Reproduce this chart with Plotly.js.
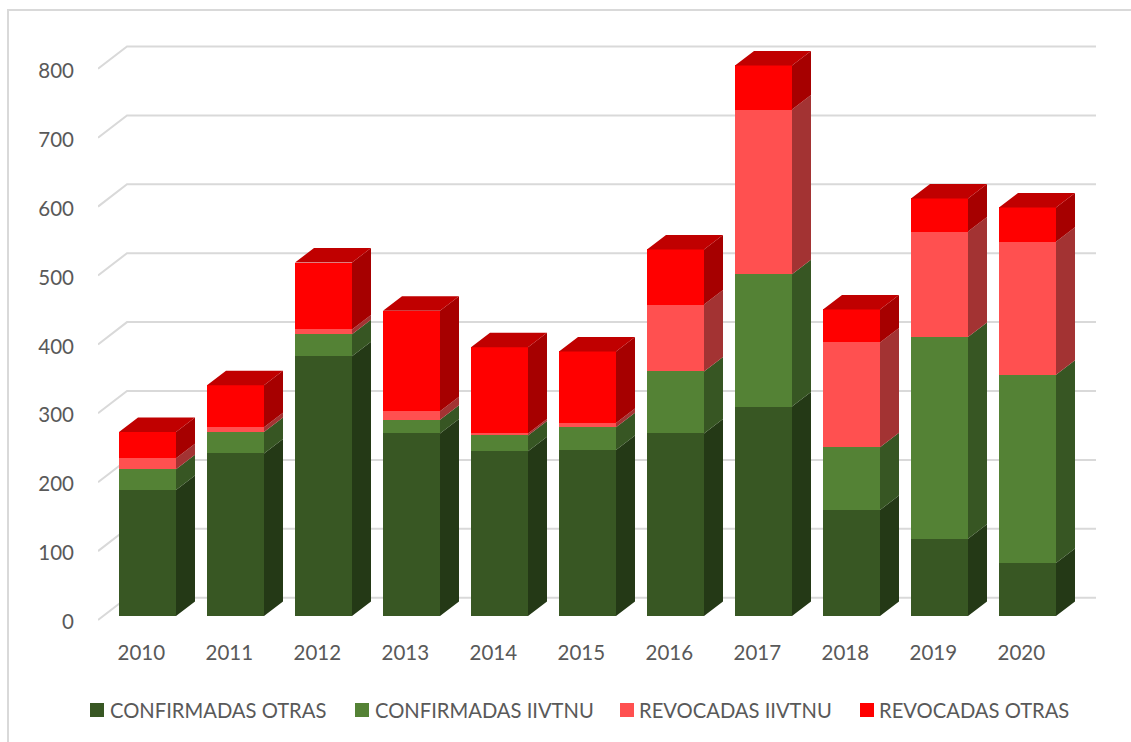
<!DOCTYPE html>
<html><head><meta charset="utf-8">
<script src="https://cdn.plot.ly/plotly-3.0.1.min.js"></script>
<style>html,body{margin:0;padding:0;background:#fff;overflow:hidden}#c{width:1131px;height:742px}</style>
</head><body><div id="c"></div>
<script>
const years = [2010,2011,2012,2013,2014,2015,2016,2017,2018,2019,2020];
const confirmadasOtras = [183,236,377,265,239,241,265,304,154,112,77];
const confirmadasIivtnu = [30,31,32,20,23,33,90,192,91,293,273];
const revocadasIivtnu = [16,7,7,12,3,6,97,239,152,153,193];
const revocadasOtras = [38,61,97,146,125,104,80,64,48,48,50];
const gridValues = [0,100,200,300,400,500,600,700,800];
const seriesNames = ['CONFIRMADAS OTRAS','CONFIRMADAS IIVTNU','REVOCADAS IIVTNU','REVOCADAS OTRAS'];
const seriesValues = [confirmadasOtras,confirmadasIivtnu,revocadasIivtnu,revocadasOtras];
const frontColors = ['#385723','#548235','#FF5050','#FF0000'];
const sideColors = ['#243916','#375623','#A33333','#A60000'];
const topColor = '#C00000';
const FONT = 'Lato, sans-serif', TXT = '#595959';

// plot-area frame in pixels and scales
const W=1131,H=742,L=98,R=1096,T=30,B=622;
const pxPerYear=88, pxPerUnit=0.689;
const xMin=2010-(147.5-L)/pxPerYear, xMax=2020+(R-1027.5)/pxPerYear;
const yTop=(B-T)/pxPerUnit;
const barFloorOff=(B-616)/pxPerUnit;         // bar axis is lifted relative to the label axis
const wallFront=(B-620)/pxPerUnit;
const wallDepthX=(127-L)/pxPerYear, wallBack=(B-597.7)/pxPerUnit;
const barW=57/pxPerYear, depthX=19/pxPerYear, depthY=14.5/pxPerUnit;

const traces=[];
// gridlines: wall front -> back wall -> right end
const gx=[],gy=[];
gridValues.forEach(v=>{gx.push(xMin,xMin+wallDepthX,xMax,null);gy.push(v+wallFront,v+wallBack,v+wallBack,null);});
traces.push({type:'scatter',mode:'lines',x:gx,y:gy,xaxis:'x',yaxis:'y',connectgaps:false,
  line:{color:'#D9D9D9',width:2},hoverinfo:'skip',showlegend:false,cliponaxis:false});

// front faces
seriesValues.forEach((vals,i)=>{
  traces.push({type:'bar',name:seriesNames[i],x:years,y:vals,xaxis:'x',yaxis:'y2',width:barW,
    marker:{color:frontColors[i],line:{width:0}},showlegend:false});
});
// side faces
let base=years.map(()=>0);
seriesValues.forEach((vals,i)=>{
  const sx=[],sy=[];
  years.forEach((yr,k)=>{
    const xr=yr+barW/2, lo=base[k], hi=lo+vals[k];
    sx.push(xr,xr+depthX,xr+depthX,xr,xr,null);
    sy.push(lo,lo+depthY,hi+depthY,hi,lo,null);
    base[k]=hi;
  });
  traces.push({type:'scatter',mode:'lines',x:sx,y:sy,xaxis:'x',yaxis:'y2',fill:'toself',fillcolor:sideColors[i],
    line:{width:0,color:sideColors[i]},hoverinfo:'skip',showlegend:false});
});
// top faces
const tx=[],ty=[];
years.forEach((yr,k)=>{
  const xl=yr-barW/2,xr=yr+barW/2,h=base[k];
  tx.push(xl,xr,xr+depthX,xl+depthX,xl,null);
  ty.push(h,h,h+depthY,h+depthY,h,null);
});
traces.push({type:'scatter',mode:'lines',x:tx,y:ty,xaxis:'x',yaxis:'y2',fill:'toself',fillcolor:topColor,
  line:{width:0,color:topColor},hoverinfo:'skip',showlegend:false});

// paper-coordinate helpers for frame and legend
const pX=p=>(p-L)/(R-L), pY=p=>(B-p)/(B-T);
const legendSwatchX=[90,355,620,860], legendTextX=[110,375,639,879], legendY=710, sw=14;
const shapes=[
 {type:'line',xref:'paper',yref:'paper',x0:pX(8),x1:pX(8),y0:pY(9),y1:pY(H+2),line:{color:'#D9D9D9',width:2}},
 {type:'line',xref:'paper',yref:'paper',x0:pX(8),x1:pX(W+2),y0:pY(10),y1:pY(10),line:{color:'#D9D9D9',width:2}}
];
const annotations=[];
seriesNames.forEach((n,i)=>{
  shapes.push({type:'rect',xref:'paper',yref:'paper',x0:pX(legendSwatchX[i]),x1:pX(legendSwatchX[i]+sw),
    y0:pY(legendY-sw/2),y1:pY(legendY+sw/2),fillcolor:frontColors[i],line:{width:0}});
  annotations.push({xref:'paper',yref:'paper',x:pX(legendTextX[i]),y:pY(legendY),xanchor:'left',yanchor:'middle',
    text:n,showarrow:false,font:{family:FONT,size:20.2,color:TXT},borderpad:0,borderwidth:0});
});

const layout={
  width:W,height:H,paper_bgcolor:'#fff',plot_bgcolor:'rgba(0,0,0,0)',
  margin:{l:L,r:W-R,t:T,b:H-B,pad:0},barmode:'stack',showlegend:false,hovermode:false,
  xaxis:{type:'linear',range:[xMin,xMax],tickmode:'array',tickvals:years.map(y=>y-0.07),ticktext:years.map(String),
    showgrid:false,zeroline:false,showline:false,ticks:'',ticklabelstandoff:16,fixedrange:true,
    tickfont:{family:FONT,size:20.5,color:TXT}},
  yaxis:{range:[0,yTop],tickmode:'array',tickvals:gridValues,ticktext:gridValues.map(String),showgrid:false,zeroline:false,showline:false,
    ticks:'',ticklabelstandoff:23,fixedrange:true,tickfont:{family:FONT,size:20.5,color:TXT}},
  yaxis2:{range:[-barFloorOff,yTop-barFloorOff],overlaying:'y',side:'left',visible:false,fixedrange:true},
  shapes,annotations
};
Plotly.newPlot('c',traces,layout,{displayModeBar:false,staticPlot:true});
</script></body></html>
